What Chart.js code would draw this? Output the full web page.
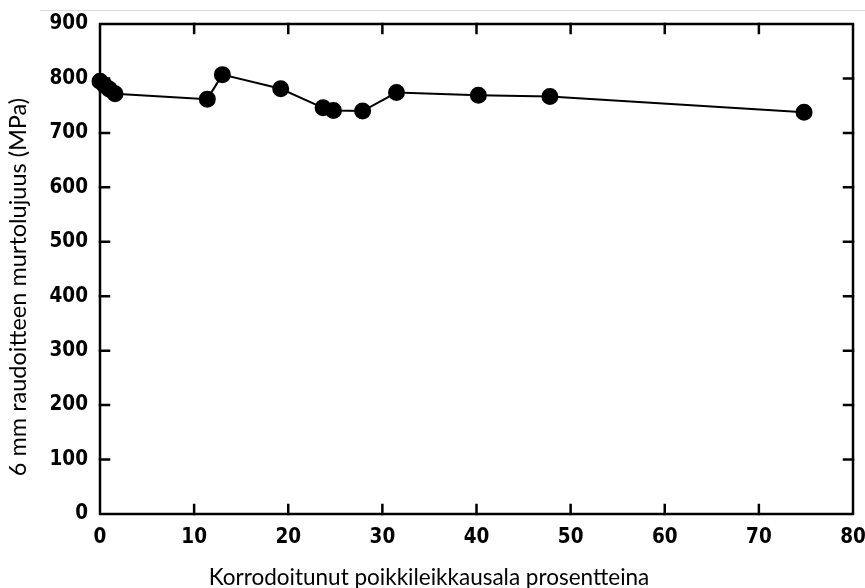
<!DOCTYPE html>
<html>
<head>
<meta charset="utf-8">
<script src="https://cdn.jsdelivr.net/npm/chart.js@4"></script>
<style>
html, body { margin: 0; padding: 0; background: #fff; }
#wrap { position: relative; width: 865px; height: 588px; }
#topline { position: absolute; left: 40px; right: 0; top: 10px; border-top: 1px solid #dcdcdc; }
canvas { display: block; }
</style>
</head>
<body>
<div id="wrap"><div id="topline"></div><canvas id="chart" width="865" height="588"></canvas></div>
<script>
// luettu kuvasta
const corrodedPct = [0, 0.5, 1.0, 1.6, 11.4, 13.0, 19.2, 23.7, 24.8, 27.9, 31.5, 40.2, 47.8, 74.8];
const strengthMPa = [795, 787, 780, 772, 762, 807, 781, 746, 741, 740, 774, 769, 767, 738];
const xTicks = [0, 10, 20, 30, 40, 50, 60, 70, 80];
const yTicks = [0, 100, 200, 300, 400, 500, 600, 700, 800, 900];

const xTitle = 'Korrodoitunut poikkileikkausala prosentteina';
const yTitle = '6 mm raudoitteen murtolujuus (MPa)';

// kehys ja sisäänpäin osoittavat tikit
const frameTicks = {
    id: 'frameTicks',
    beforeDatasetsDraw(chart) {
        const { ctx, chartArea: a, scales: { x, y } } = chart;
        const len = 9;
        ctx.save();
        ctx.strokeStyle = '#000';
        ctx.lineWidth = 2.5;
        ctx.lineCap = 'square';
        ctx.strokeRect(a.left, a.top, a.right - a.left, a.bottom - a.top);
        ctx.beginPath();
        xTicks.slice(1, -1).forEach(v => {
            const px = x.getPixelForValue(v);
            ctx.moveTo(px, a.bottom); ctx.lineTo(px, a.bottom - len);
            ctx.moveTo(px, a.top); ctx.lineTo(px, a.top + len);
        });
        yTicks.slice(1, -1).forEach(v => {
            const py = y.getPixelForValue(v);
            ctx.moveTo(a.left, py); ctx.lineTo(a.left + len, py);
            ctx.moveTo(a.right, py); ctx.lineTo(a.right - len, py);
        });
        ctx.stroke();
        ctx.restore();
    },
    // akselien otsikot: alkuperäisessä ne eivät ole keskellä kuva-aluetta
    afterDraw(chart) {
        const { ctx } = chart;
        ctx.save();
        ctx.fillStyle = '#000';
        ctx.textAlign = 'center';
        ctx.textBaseline = 'alphabetic';
        ctx.font = '22.5px Lato, "Open Sans", sans-serif';
        ctx.fillText(xTitle, 429, 585);
        ctx.translate(26, 287);
        ctx.rotate(-Math.PI / 2);
        ctx.font = '23.5px Lato, "Open Sans", sans-serif';
        ctx.fillText(yTitle, 0, 0);
        ctx.restore();
    }
};

const tickFont = { family: '"DejaVu Sans Condensed", "DejaVu Sans"', size: 20.5, weight: 'bold' };

new Chart(document.getElementById('chart'), {
    type: 'scatter',
    data: {
        datasets: [{
            data: corrodedPct.map((v, i) => ({ x: v, y: strengthMPa[i] })),
            showLine: true,
            borderColor: '#000',
            borderWidth: 2,
            backgroundColor: '#000',
            pointRadius: 7.5,
            pointHoverRadius: 7.5,
            clip: false
        }]
    },
    options: {
        responsive: false,
        animation: false,
        layout: { padding: { top: 24, right: 12, left: 0, bottom: 0 } },
        plugins: { legend: { display: false }, tooltip: { enabled: false } },
        scales: {
            x: {
                type: 'linear', min: 0, max: 80,
                afterBuildTicks: s => { s.ticks = xTicks.map(v => ({ value: v })); },
                afterFit: s => { s.height = 74; s.paddingLeft = 0; s.paddingRight = 0; },
                grid: { display: false, drawTicks: false },
                border: { display: false },
                ticks: { color: '#000', font: tickFont, padding: 11, maxRotation: 0, autoSkip: false },
                title: { display: false }
            },
            y: {
                min: 0, max: 900,
                afterBuildTicks: s => { s.ticks = yTicks.map(v => ({ value: v })); },
                afterFit: s => { s.width = 100; s.paddingTop = 0; s.paddingBottom = 0; },
                grid: { display: false, drawTicks: false },
                border: { display: false },
                ticks: { color: '#000', font: tickFont, padding: 12, autoSkip: false },
                title: { display: false }
            }
        }
    },
    plugins: [frameTicks]
});
</script>
</body>
</html>
